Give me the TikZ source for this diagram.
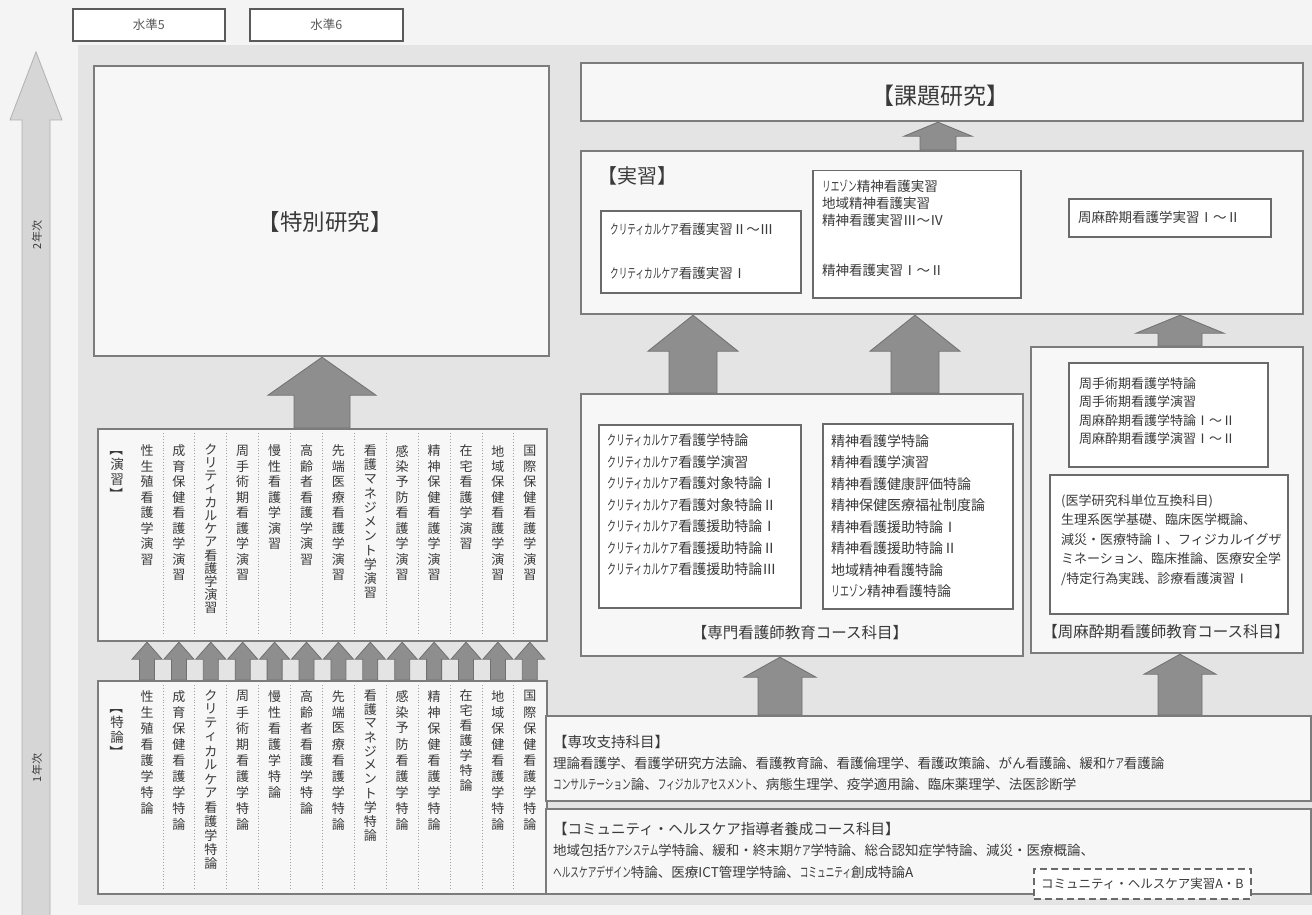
\documentclass[tikz,border=0pt]{standalone}
\usepackage{fontspec}
\setmainfont{Noto Sans CJK JP}
\usepackage{graphicx}
\usetikzlibrary{calc}
\definecolor{pagebg}{HTML}{F4F4F4}
\definecolor{regionbg}{HTML}{E4E4E4}
\definecolor{bordergray}{HTML}{7C7C7C}
\definecolor{innergray}{HTML}{6A6A6A}
\definecolor{boxfill}{HTML}{F7F7F7}
\definecolor{arrowfill}{HTML}{8E8E8E}
\definecolor{arrowline}{HTML}{707070}
\definecolor{txt}{HTML}{3A3A3A}
\definecolor{axisfill}{HTML}{D6D6D6}
\definecolor{axisline}{HTML}{B0B0B0}
\definecolor{lvlline}{HTML}{5A5A5A}
\definecolor{sepgray}{HTML}{A0A0A0}
\pgfdeclarelayer{bottom}
\pgfdeclarelayer{back}
\pgfsetlayers{bottom,back,main}
\makeatletter
\def\vt@end{\vt@end}
\newcommand\vtext[2]{\vbox{\offinterlineskip\def\vt@adv{#1pt}\vt@loop#2\vt@end}}
\def\vt@loop#1{\ifx#1\vt@end\else\hbox to 1.2em{\hss\vbox to \vt@adv{\vss\hbox{#1}\vss}\hss}\expandafter\vt@loop\fi}
\makeatother
\newcommand\lbv{\rotatebox[origin=c]{-90}{【}}
\newcommand\rbv{\rotatebox[origin=c]{-90}{】}}
% compressed katakana
\newcommand\hk[1]{\scalebox{0.64}[1]{#1}}
% block arrow: #1 tail point, #2 tip point, #3 half head width, #4 half shaft width, #5 head length
\newcommand\barrow[5]{\path[blk] let \p1=#1, \p2=#2 in
  ({\x1-#4pt},\y1) -- ({\x1-#4pt},{\y2-#5pt}) -- ({\x1-#3pt},{\y2-#5pt}) -- (\x1,\y2)
  -- ({\x1+#3pt},{\y2-#5pt}) -- ({\x1+#4pt},{\y2-#5pt}) -- ({\x1+#4pt},\y1) -- cycle;}
\begin{document}
\begin{tikzpicture}[x=1pt,y=-1pt,
  obox/.style={rectangle, draw=bordergray, line width=2.2pt, fill=boxfill, inner sep=0pt, anchor=north west},
  ibox/.style={rectangle, draw=innergray, line width=1.5pt, fill=white, inner sep=0pt, anchor=north west},
  lvl/.style={rectangle, draw=lvlline, line width=1.6pt, fill=white, inner sep=0pt, anchor=north west, font=\fontsize{12.5}{12.5}\selectfont, text=lvlline},
  title/.style={inner sep=0pt, text=txt},
  tl/.style={anchor=west, inner sep=0pt, align=left, text=txt},
  vcol/.style={anchor=north, inner sep=0pt, text=txt, font=\fontsize{13}{13}\selectfont},
  blk/.style={fill=arrowfill, draw=arrowline, line width=0.8pt, line join=miter},
  sep/.style={draw=sepgray, line width=0.9pt, dotted},
  dbox/.style={rectangle, draw=innergray, line width=1.6pt, dash pattern=on 7pt off 4pt, fill=white, inner sep=0pt, anchor=north west, text=txt}]
\useasboundingbox (0,0) rectangle (1312,915);
\begin{pgfonlayer}{bottom}
  \fill[pagebg] (0,0) rectangle (1312,915);
  \fill[regionbg] (78,45) rectangle (1312,905);
  \path[fill=axisfill, draw=axisline, line width=0.8pt] (22,915) -- (22,120) -- (10,120) -- (36,52) -- (62,120) -- (50,120) -- (50,915);
\end{pgfonlayer}

% level boxes and year labels
\node[lvl, minimum width=152pt, minimum height=32pt] (lv5) at (72,8) {水準5};
\node[lvl, minimum width=153pt, minimum height=32pt] (lv6) at (249,8) {水準6};
\node[title, rotate=90, font=\fontsize{11}{11}\selectfont] (year2) at (37,235) {2年次};
\node[title, rotate=90, font=\fontsize{11}{11}\selectfont] (year1) at (37,768) {1年次};

% left column
\node[obox, minimum width=455pt, minimum height=290pt] (tokubetsu) at (93,65) {};
\node[title, font=\fontsize{22.5}{22.5}\selectfont] (tokubetsuT) at (325,222) {【特別研究】};
\node[obox, minimum width=449pt, minimum height=212pt] (enshu) at (97,428) {};
\node[obox, minimum width=449pt, minimum height=213pt] (tokuron) at (97,680) {};
\foreach \i in {0,...,11} {
  \draw[sep] ({147+31.9*(\i+0.5)},433) -- ({147+31.9*(\i+0.5)},636);
  \draw[sep] ({147+31.9*(\i+0.5)},685) -- ({147+31.9*(\i+0.5)},889);
}
\node[vcol, font=\fontsize{13.5}{13.5}\selectfont] (enshuL) at (117,442) {\vtext{15}{\lbv 演習\rbv}};
\node[vcol, font=\fontsize{13.5}{13.5}\selectfont] (tokuronL) at (117,700) {\vtext{15}{\lbv 特論\rbv}};
\foreach \colT/\colA [count=\i from 0] in {性生殖看護学演習/15.5, 成育保健看護学演習/15.5, クリティカルケア看護学演習/13.2, 周手術期看護学演習/15.5, 慢性看護学演習/15.5, 高齢者看護学演習/15.5, 先端医療看護学演習/15.5, 看護マネジメント学演習/14.3, 感染予防看護学演習/15.5, 精神保健看護学演習/15.5, 在宅看護学演習/15.5, 地域保健看護学演習/15.5, 国際保健看護学演習/15.5} {
  \node[vcol] (e\i) at ({147+31.9*\i},443) {\edef\tmp{\noexpand\vtext{\colA}{\colT}}\tmp};
}
\foreach \colT/\colA [count=\i from 0] in {性生殖看護学特論/16, 成育保健看護学特論/16, クリティカルケア看護学特論/14, 周手術期看護学特論/16, 慢性看護学特論/16, 高齢者看護学特論/16, 先端医療看護学特論/16, 看護マネジメント学特論/14, 感染予防看護学特論/16, 精神保健看護学特論/16, 在宅看護学特論/15, 地域保健看護学特論/16, 国際保健看護学特論/16} {
  \node[vcol] (t\i) at ({147+31.9*\i},688) {\edef\tmp{\noexpand\vtext{\colA}{\colT}}\tmp};
}

% right column
\node[obox, minimum width=722pt, minimum height=58pt] (kadai) at (580,62) {};
\node[title, font=\fontsize{23}{23}\selectfont] (kadaiT) at (940,96) {【課題研究】};
\node[obox, minimum width=722pt, minimum height=163pt] (jisshu) at (580,150) {};
\node[title, anchor=west, font=\fontsize{20}{20}\selectfont] (jisshuT) at (597,176) {【実習】};
\node[ibox, minimum width=200pt, minimum height=82pt] (js1) at (600,210) {};
\node[tl, font=\fontsize{13.5}{44}\selectfont] (js1T) at (610,251) {\hk{クリティカルケア}看護実習Ⅱ～Ⅲ\\\hk{クリティカルケア}看護実習Ⅰ};
\node[ibox, minimum width=208pt, minimum height=127pt] (js2) at (812,170) {};
\node[tl, font=\fontsize{13.5}{17}\selectfont] (js2T) at (822,228) {\hk{リエゾン}精神看護実習\\地域精神看護実習\\精神看護実習Ⅲ～Ⅳ\\[33pt]精神看護実習Ⅰ～Ⅱ};
\node[ibox, minimum width=202pt, minimum height=38pt] (js3) at (1068,198) {};
\node[tl, font=\fontsize{13.5}{13.5}\selectfont] (js3T) at (1078,217) {周麻酔期看護学実習Ⅰ～Ⅱ};

\node[obox, minimum width=442pt, minimum height=262pt] (senmon) at (580,393) {};
\node[ibox, minimum width=202pt, minimum height=183pt] (sm1) at (598,424) {};
\node[tl, font=\fontsize{14}{21.5}\selectfont] (sm1T) at (607,505) {\hk{クリティカルケア}看護学特論\\\hk{クリティカルケア}看護学演習\\\hk{クリティカルケア}看護対象特論Ⅰ\\\hk{クリティカルケア}看護対象特論Ⅱ\\\hk{クリティカルケア}看護援助特論Ⅰ\\\hk{クリティカルケア}看護援助特論Ⅱ\\\hk{クリティカルケア}看護援助特論Ⅲ};
\node[ibox, minimum width=190pt, minimum height=185pt] (sm2) at (822,423) {};
\node[tl, font=\fontsize{14}{21.5}\selectfont] (sm2T) at (831,516) {精神看護学特論\\精神看護学演習\\精神看護健康評価特論\\精神保健医療福祉制度論\\精神看護援助特論Ⅰ\\精神看護援助特論Ⅱ\\地域精神看護特論\\\hk{リエゾン}精神看護特論};
\node[title, font=\fontsize{15.5}{15.5}\selectfont] (senmonT) at (800,633) {【専門看護師教育コース科目】};

\node[obox, minimum width=272pt, minimum height=306pt] (shumasui) at (1030,346) {};
\node[ibox, minimum width=199pt, minimum height=104pt] (sh1) at (1068,362) {};
\node[tl, font=\fontsize{13}{18.5}\selectfont] (sh1T) at (1079,411) {周手術期看護学特論\\周手術期看護学演習\\周麻酔期看護学特論Ⅰ～Ⅱ\\周麻酔期看護学演習Ⅰ～Ⅱ};
\node[ibox, minimum width=238pt, minimum height=139pt] (sh2) at (1049,474) {};
\node[tl, font=\fontsize{13}{19.5}\selectfont] (sh2T) at (1061,540) {(医学研究科単位互換科目)\\生理系医学基礎、臨床医学概論、\\減災・医療特論Ⅰ、フィジカルイグザ\\ミネーション、臨床推論、医療安全学\\/特定行為実践、診療看護演習Ⅰ};
\node[title, font=\fontsize{15.5}{15.5}\selectfont] (shumasuiT) at (1166,632) {【周麻酔期看護師教育コース科目】};

\node[obox, minimum width=765pt, minimum height=85pt] (senko) at (545,715) {};
\node[tl, font=\fontsize{13.5}{21}\selectfont] (senkoT) at (553,763) {{\fontsize{14.5}{21}\selectfont【専攻支持科目】}\\理論看護学、看護学研究方法論、看護教育論、看護倫理学、看護政策論、がん看護論、緩和\hk{ケア}看護論\\\hk{コンサルテーション}論、\hk{フィジカルアセスメント}、病態生理学、疫学適用論、臨床薬理学、法医診断学};
\node[obox, minimum width=765pt, minimum height=85pt] (comm) at (545,808) {};
\node[tl, font=\fontsize{13.5}{21.5}\selectfont] (commT) at (553,850) {{\fontsize{14.5}{21.5}\selectfont【コミュニティ・ヘルスケア指導者養成コース科目】}\\地域包括\hk{ケアシステム}学特論、緩和・終末期\hk{ケア}学特論、総合認知症学特論、減災・医療概論、\\\hk{ヘルスケアデザイン}特論、医療ICT管理学特論、\hk{コミュニティ}創成特論A};
\node[dbox, minimum width=217pt, minimum height=30pt, font=\fontsize{12.5}{12.5}\selectfont] (commJ) at (1033,868) {コミュニティ・ヘルスケア実習A・B};

% arrow positions
\coordinate (xA) at (322,0);
\coordinate (xB) at (938,0);
\coordinate (xC) at (693,0);
\coordinate (xD) at (915,0);
\coordinate (xE) at (1180,0);
\coordinate (xF) at (780,0);
\foreach \i in {0,...,12} { \coordinate (c\i) at ({147+31.9*\i},0); }

\begin{pgfonlayer}{back}
  \barrow{(enshu.north -| xA)}{(tokubetsu.south -| xA)}{54}{28}{38}
  \barrow{(jisshu.north -| xB)}{(kadai.south -| xB)}{34}{18}{14}
  \barrow{(senmon.north -| xC)}{(jisshu.south -| xC)}{45}{24}{36}
  \barrow{(senmon.north -| xD)}{(jisshu.south -| xD)}{45}{24}{36}
  \barrow{(shumasui.north -| xE)}{(jisshu.south -| xE)}{44}{22}{18}
  \barrow{(senko.north -| xF)}{(senmon.south -| xF)}{36}{22}{20}
  \barrow{(senko.north -| xE)}{(shumasui.south -| xE)}{36}{22}{20}
  \foreach \i in {0,...,12} {
    \barrow{(tokuron.north -| c\i)}{(enshu.south -| c\i)}{15}{7.5}{17}
  }
\end{pgfonlayer}
\end{tikzpicture}
\end{document}
